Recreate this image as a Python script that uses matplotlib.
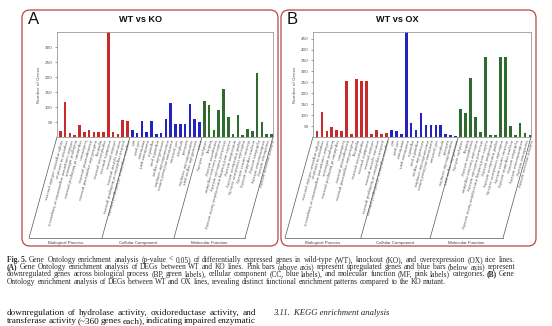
import matplotlib
matplotlib.use('Agg')
import matplotlib.pyplot as plt
import matplotlib.transforms as mtransforms
from matplotlib.patches import FancyBboxPatch

# ---------------- data ----------------
A_bp = [20, 117, 12, 7, 41, 18, 22, 17, 17, 17, 350, 16, 11, 56, 53]
A_cc = [25, 14, 55, 18, 52, 10, 12, 61, 114, 44, 44, 45, 110, 59, 50]
A_mf = [120, 108, 23, 90, 159, 66, 9, 73, 7, 28, 20, 212, 50, 9, 9]

B_bp = [28, 113, 28, 45, 30, 28, 258, 15, 263, 258, 255, 15, 33, 15, 17]
B_cc = [33, 27, 15, 480, 63, 30, 108, 55, 55, 55, 55, 12, 8, 5]
B_mf = [127, 112, 268, 92, 23, 366, 11, 11, 366, 366, 51, 11, 62, 18, 8]

bp_terms = ["single-organism cellular process", "response to stimulus",
            "cellular component organization or biogenesis", "biological adhesion",
            "regulation of biological process", "localization",
            "developmental process", "multicellular organismal process",
            "signaling", "reproductive process", "metabolic process",
            "cellular process", "immune system process",
            "positive regulation of biological process",
            "negative regulation of biological process"]
cc_terms_A = ["cell", "cell part", "membrane", "membrane part", "organelle",
              "organelle part", "extracellular region", "macromolecular complex",
              "membrane-enclosed lumen", "cell junction", "symplast", "nucleoid",
              "supramolecular complex", "extracellular region part", "virion"]
cc_terms_B = cc_terms_A[:14]
mf_terms = ["catalytic activity", "binding", "transporter activity",
            "molecular function regulator", "structural molecule activity",
            "nucleic acid binding transcription factor activity",
            "antioxidant activity", "signal transducer activity",
            "molecular transducer activity", "electron carrier activity",
            "enzyme regulator activity", "hydrolase activity",
            "oxidoreductase activity", "transferase activity",
            "nutrient reservoir activity"]

groups = ["Biological Process", "Cellular Component", "Molecular Function"]
A_yticks = [50, 100, 150, 200, 250, 300]
B_yticks = [50, 100, 150, 200, 250, 300, 350, 400, 450]

caption_lines = [
    [("Fig. 5.", "bold"), ("Gene", "normal"), ("Ontology", "normal"), ("enrichment", "normal"), ("analysis", "normal"),
     ("(p-value", "normal"), ("<", "normal"), ("0.05)", "normal"), ("of", "normal"), ("differentially", "normal"),
     ("expressed", "normal"), ("genes", "normal"), ("in", "normal"), ("wild-type", "normal"), ("(WT),", "normal"),
     ("knockout", "normal"), ("(KO),", "normal"), ("and", "normal"), ("overexpression", "normal"), ("(OX)", "normal"),
     ("rice", "normal"), ("lines.", "normal")],
    [("(A)", "bold")] + [(w, "normal") for w in
     "Gene Ontology enrichment analysis of DEGs between WT and KO lines. Pink bars (above axis) represent upregulated genes and blue bars (below axis) represent".split()],
    [(w, "normal") for w in
     "downregulated genes across biological process (BP, green labels), cellular component (CC, blue labels), and molecular function (MF, pink labels) categories.".split()]
    + [("(B)", "bold"), ("Gene", "normal")],
    [(w, "normal") for w in
     "Ontology enrichment analysis of DEGs between WT and OX lines, revealing distinct functional enrichment patterns compared to the KO mutant.".split()],
]
body_lines = [
    "downregulation of hydrolase activity, oxidoreductase activity, and",
    "transferase activity (~360 genes each), indicating impaired enzymatic",
]
heading = "3.11.  KEGG enrichment analysis"

# ---------------- figure ----------------
W, H = 552, 326
fig = plt.figure(figsize=(W / 100, H / 100), dpi=100)
ov = fig.add_axes([0, 0, 1, 1])
ov.set_xlim(0, W)
ov.set_ylim(H, 0)
ov.axis('off')
ov.patch.set_alpha(0)

RED, BLUE, GREEN = '#c62a2a', '#2323bf', '#2f6b2f'
BORDER = '#b54848'
LINE = '#555555'


def px_axes(x0, y0, x1, y1):
    return fig.add_axes([x0 / W, 1 - y1 / H, (x1 - x0) / W, (y1 - y0) / H])


def panel(letter, title, title_x, bx0, bx1, ax_x0, ax_x1, bp, cc, mf, terms, ymax, yticks, xlim):
    ov.add_patch(FancyBboxPatch((bx0, 10), bx1 - bx0, 236,
                                boxstyle="round,pad=0,rounding_size=8",
                                fc='none', ec=BORDER, lw=0.9))
    ov.text(bx0 + 6, 19.5, letter, fontsize=12, family='Liberation Sans',
            ha='left', va='center', color='#111')
    ov.text(title_x, 20, title, fontsize=6.6, family='Liberation Sans',
            fontweight='bold', ha='center', va='center', color='#111')

    ax_y0, ax_y1 = 32, 137
    ax = px_axes(ax_x0, ax_y0, ax_x1, ax_y1)
    vals = bp + cc + mf
    cols = [RED] * len(bp) + [BLUE] * len(cc) + [GREEN] * len(mf)
    xs = list(range(len(vals)))
    ax.bar(xs, vals, width=0.55, color=cols, linewidth=0)
    ax.set_xlim(*xlim)
    ax.set_ylim(0, ymax)
    ax.set_xticks([])
    ax.set_yticks(yticks)
    ax.tick_params(axis='y', labelsize=3, length=1.5, width=0.4, pad=1.5,
                   colors='#555')
    for sp in ax.spines.values():
        sp.set_color('#9a9a9a')
        sp.set_linewidth(0.6)
    ax.set_ylabel("Number of Genes", fontsize=3, color='#555', labelpad=3)

    trans = mtransforms.blended_transform_factory(ax.transData, ax.transAxes)
    for i, lab in enumerate(terms):
        ax.text(i + 0.1, -0.02, lab, transform=trans, rotation=255,
                rotation_mode='anchor', ha='left', va='center',
                fontsize=2.7, color='#555', clip_on=False)

    n1 = len(bp)
    n2 = n1 + len(cc)
    bounds = [xlim[0], n1 - 0.5, n2 - 0.5, xlim[1]]
    bpx = [ax.transData.transform((b, 0))[0] for b in bounds]
    dx = -28
    ybot = 238
    for b in bpx:
        ov.plot([b, b + dx], [ax_y1, ybot], color=LINE, lw=0.5)
    ov.plot([bpx[0] + dx, bpx[-1] + dx], [ybot, ybot], color=LINE, lw=0.5)
    for k, g in enumerate(groups):
        cx = (bpx[k] + bpx[k + 1]) / 2 + dx
        ov.text(cx, 243, g, fontsize=3.2, color='#444', ha='center', va='center',
                family='Liberation Sans')


panel("A", "WT vs KO", 141, 22, 278, 57, 273, A_bp, A_cc, A_mf,
      bp_terms + cc_terms_A + mf_terms, 350, A_yticks, (-0.7, 44.3))
panel("B", "WT vs OX", 397, 281, 536, 313, 531, B_bp, B_cc, B_mf,
      bp_terms + cc_terms_B + mf_terms, 480, B_yticks, (-0.8, 43.2))

renderer = fig.canvas.get_renderer()


def natural_width(words, size, family, style='normal'):
    ts = [ov.text(0, 0, w, fontsize=size, fontweight=wt, family=family, style=style)
          for w, wt in words]
    ws = [t.get_window_extent(renderer).width for t in ts]
    sp = ov.text(0, 0, "a a", fontsize=size, family=family)
    sp2 = ov.text(0, 0, "aa", fontsize=size, family=family)
    space = sp.get_window_extent(renderer).width - sp2.get_window_extent(renderer).width
    for t in ts + [sp, sp2]:
        t.remove()
    return ws, space


def place_line(words, x0, y, size, family, color, x1=None, style='normal'):
    ws, space = natural_width(words, size, family, style)
    if x1 is not None and len(words) > 1:
        gap = (x1 - x0 - sum(ws)) / (len(words) - 1)
    else:
        gap = space
    x = x0
    for (w, wt), wd in zip(words, ws):
        ov.text(x, y, w, fontsize=size, fontweight=wt, family=family, style=style,
                color=color, ha='left', va='baseline')
        x += wd + gap


SERIF = 'Liberation Serif'
ws1, sp1 = natural_width(caption_lines[1], 10, SERIF)
nat1 = sum(ws1) + sp1 * (len(ws1) - 1)
cap_size = 10 * 498 / nat1
cap_y = [262, 269.3, 276.3, 283.7]
for k, words in enumerate(caption_lines):
    place_line(words, 7, cap_y[k], cap_size, SERIF, '#2a2a2a',
               x1=515 if k < 3 else None)

bw = [(w, 'normal') for w in body_lines[0].split()]
wsb, spb = natural_width(bw, 10, SERIF)
natb = sum(wsb) + spb * (len(wsb) - 1)
body_size = 10 * 240 / natb
place_line(bw, 7, 315, body_size, SERIF, '#111', x1=256)
place_line([(w, 'normal') for w in body_lines[1].split()], 7, 322.8, body_size, SERIF,
           '#111', x1=256)
ov.text(273, 315, heading, fontsize=body_size * 0.95, family=SERIF, style='italic',
        color='#222', ha='left', va='baseline')

fig.savefig('out.png', dpi=100)
